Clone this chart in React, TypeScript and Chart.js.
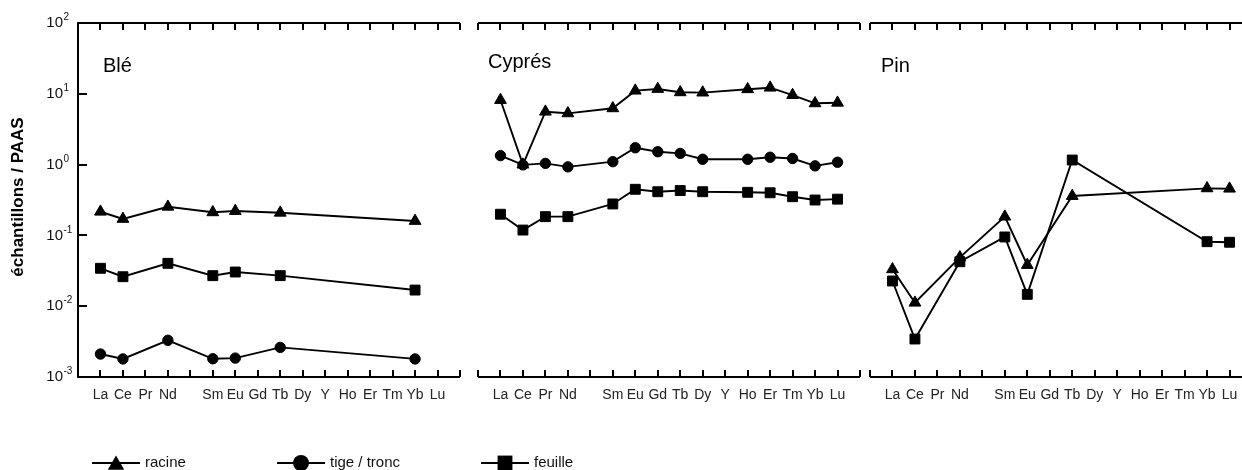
import React, { useEffect, useRef } from 'react';
import { Chart, registerables } from 'chart.js';

Chart.register(...registerables);

// ---------- data ----------
const ELEMENTS = ['La', 'Ce', 'Pr', 'Nd', 'Pm', 'Sm', 'Eu', 'Gd', 'Tb', 'Dy', 'Y', 'Ho', 'Er', 'Tm', 'Yb', 'Lu'];
const TICK_LABELS = ['La', 'Ce', 'Pr', 'Nd', '', 'Sm', 'Eu', 'Gd', 'Tb', 'Dy', 'Y', 'Ho', 'Er', 'Tm', 'Yb', 'Lu'];
const PANEL_TITLES = ['Blé', 'Cyprés', 'Pin'];
const SERIES_NAMES = ['racine', 'tige / tronc', 'feuille'];
const Y_DECADES = [-3, -2, -1, 0, 1, 2];
const Y_TITLE = 'échantillons / PAAS';

// Blé
const BLE_RACINE = [0.216, 0.171, null, 0.254, null, 0.212, 0.221, null, 0.209, null, null, null, null, null, 0.16, null];
const BLE_TIGE = [0.00211, 0.0018, null, 0.0033, null, 0.00181, 0.00185, null, 0.00262, null, null, null, null, null, 0.0018, null];
const BLE_FEUILLE = [0.0343, 0.0261, null, 0.0403, null, 0.027, 0.0304, null, 0.027, null, null, null, null, null, 0.0169, null];

// Cyprés
const CYP_RACINE = [8.17, 1.0, 5.59, 5.3, null, 6.24, 11.07, 11.7, 10.5, 10.4, null, 11.6, 12.2, 9.6, 7.34, 7.48];
const CYP_TIGE = [1.34, 0.99, 1.04, 0.93, null, 1.1, 1.73, 1.52, 1.44, 1.19, null, 1.19, 1.27, 1.22, 0.96, 1.08];
const CYP_FEUILLE = [0.199, 0.119, 0.184, 0.184, null, 0.278, 0.448, 0.414, 0.43, 0.414, null, 0.406, 0.4, 0.352, 0.316, 0.325];

// Pin
const PIN_RACINE = [0.0332, 0.0112, null, 0.049, null, 0.184, 0.0382, null, 0.36, null, null, null, null, null, 0.462, 0.457];
const PIN_FEUILLE = [0.0227, 0.00344, null, 0.0425, null, 0.095, 0.0147, null, 1.16, null, null, null, null, null, 0.0815, 0.08];

// ---------- styling / layout ----------
const FONT = "'Liberation Sans', Arial, Helvetica, sans-serif";
const W = 1242;
const H = 470;
const PLOT_TOP = 23;
const PLOT_BOTTOM = 377;
const PLOT_W = 382;
const X_AXIS_H = 30;

const MARKERS = [
  { style: 'triangle', radius: 6.8, legendR: 9.5 },
  { style: 'circle', radius: 5.2, legendR: 8 },
  { style: 'rect', radius: 7, legendR: 10.5 },
];

const LEGEND_X = [92, 277, 481];
const LEGEND_Y = 463;

type PanelCfg = {
  title: string;
  left: number;
  canvasW: number;
  series: (number | null)[][];
  leftAxis: boolean;
  titleDx: number;
  titleY: number;
  legend: boolean;
};

const PANELS: PanelCfg[] = [
  { title: PANEL_TITLES[0], left: 78, canvasW: W, series: [BLE_RACINE, BLE_TIGE, BLE_FEUILLE], leftAxis: true, titleDx: 25, titleY: 66, legend: true },
  { title: PANEL_TITLES[1], left: 478, canvasW: W, series: [CYP_RACINE, CYP_TIGE, CYP_FEUILLE], leftAxis: false, titleDx: 10, titleY: 62, legend: false },
  { title: PANEL_TITLES[2], left: 870, canvasW: 1275, series: [PIN_RACINE, [], PIN_FEUILLE], leftAxis: false, titleDx: 11, titleY: 66, legend: false },
];

function toPoints(arr: (number | null)[]) {
  const pts: { x: number; y: number }[] = [];
  arr.forEach((v, i) => {
    if (v !== null && v !== undefined) pts.push({ x: i + 1, y: v });
  });
  return pts;
}

function drawMarker(ctx: CanvasRenderingContext2D, style: string, x: number, y: number, r: number) {
  ctx.beginPath();
  if (style === 'triangle') {
    ctx.moveTo(x, y - r);
    ctx.lineTo(x + r * Math.sin(Math.PI * 2 / 3), y + r * 0.5);
    ctx.lineTo(x - r * Math.sin(Math.PI * 2 / 3), y + r * 0.5);
    ctx.closePath();
  } else if (style === 'circle') {
    ctx.arc(x, y, r, 0, Math.PI * 2);
  } else {
    const s = r * Math.SQRT1_2;
    ctx.rect(x - s, y - s, 2 * s, 2 * s);
  }
  ctx.fill();
}

const framePlugin = {
  id: 'frame',
  afterDraw(chart: any, _args: any, opts: any) {
    const { ctx, chartArea, scales } = chart;
    const xs = scales.x;
    const ys = scales.y;
    const top = chartArea.top;
    const bot = chartArea.bottom;
    const x0 = xs.getPixelForValue(0);
    const x1 = xs.getPixelForValue(ELEMENTS.length + 1);
    ctx.save();
    ctx.strokeStyle = '#000';
    ctx.lineWidth = 2;
    ctx.lineCap = 'butt';
    ctx.beginPath();
    ctx.moveTo(x0, top);
    ctx.lineTo(x1, top);
    ctx.moveTo(x0, bot);
    ctx.lineTo(x1, bot);
    for (let i = 0; i <= ELEMENTS.length + 1; i++) {
      const px = Math.round(xs.getPixelForValue(i));
      ctx.moveTo(px, top);
      ctx.lineTo(px, top + 7);
      ctx.moveTo(px, bot);
      ctx.lineTo(px, bot - 7);
    }
    ctx.stroke();

    if (opts.leftAxis) {
      ctx.beginPath();
      ctx.moveTo(x0, top - 1);
      ctx.lineTo(x0, bot + 1);
      Y_DECADES.forEach((d) => {
        const py = Math.round(ys.getPixelForValue(Math.pow(10, d)));
        ctx.moveTo(x0, py);
        ctx.lineTo(x0 + 9, py);
      });
      ctx.stroke();
      // tick labels 10^n
      ctx.fillStyle = '#111';
      Y_DECADES.forEach((d) => {
        const py = ys.getPixelForValue(Math.pow(10, d));
        ctx.font = `15px ${FONT}`;
        ctx.textAlign = 'right';
        ctx.textBaseline = 'middle';
        ctx.fillText('10', 63, py);
        ctx.font = `10px ${FONT}`;
        ctx.textAlign = 'left';
        ctx.fillText(d < 0 ? '-' + Math.abs(d) : String(d), 63.5, py - 5.5);
      });
      // y title
      ctx.save();
      ctx.translate(18, 197);
      ctx.rotate(-Math.PI / 2);
      ctx.font = `bold 17px ${FONT}`;
      ctx.textAlign = 'center';
      ctx.textBaseline = 'middle';
      ctx.fillStyle = '#000';
      ctx.fillText(Y_TITLE, 0, 0);
      ctx.restore();
    }

    // panel title
    ctx.fillStyle = '#000';
    ctx.font = `20px ${FONT}`;
    ctx.textAlign = 'left';
    ctx.textBaseline = 'middle';
    ctx.fillText(opts.title, x0 + opts.titleDx, opts.titleY);

    if (opts.legend) {
      SERIES_NAMES.forEach((name, i) => {
        const lx = LEGEND_X[i];
        ctx.strokeStyle = '#000';
        ctx.lineWidth = 2;
        ctx.beginPath();
        ctx.moveTo(lx, LEGEND_Y);
        ctx.lineTo(lx + 48, LEGEND_Y);
        ctx.stroke();
        ctx.fillStyle = '#000';
        const m = MARKERS[i];
        drawMarker(ctx, m.style, lx + 24, LEGEND_Y + (m.style === 'triangle' ? 2 : 0), m.legendR);
        ctx.font = `15px ${FONT}`;
        ctx.textAlign = 'left';
        ctx.textBaseline = 'middle';
        ctx.fillStyle = '#111';
        ctx.fillText(name, lx + 53, LEGEND_Y);
      });
    }
    ctx.restore();
  },
};

function makeConfig(p: PanelCfg): any {
  const datasets = p.series
    .map((arr, i) => ({
      label: SERIES_NAMES[i],
      data: toPoints(arr),
      borderColor: '#000',
      backgroundColor: '#000',
      borderWidth: 1.9,
      pointStyle: MARKERS[i].style,
      pointRadius: MARKERS[i].radius,
      pointBorderWidth: 1,
      pointBackgroundColor: '#000',
      pointBorderColor: '#000',
      tension: 0,
      fill: false,
      spanGaps: true,
    }))
    .filter((d) => d.data.length > 0);
  return {
    type: 'line',
    data: { datasets },
    plugins: [framePlugin],
    options: {
      responsive: false,
      animation: false,
      devicePixelRatio: 1,
      events: [],
      layout: {
        padding: {
          left: p.left,
          right: p.canvasW - p.left - PLOT_W,
          top: PLOT_TOP,
          bottom: H - PLOT_BOTTOM - X_AXIS_H,
        },
      },
      scales: {
        x: {
          type: 'linear',
          position: 'bottom',
          min: 0,
          max: ELEMENTS.length + 1,
          grid: { display: false, drawTicks: false },
          border: { display: false },
          afterFit: (s: any) => {
            s.height = X_AXIS_H;
          },
          ticks: {
            stepSize: 1,
            autoSkip: false,
            maxRotation: 0,
            padding: 10,
            color: '#222',
            font: { family: FONT, size: 14 },
            callback: (v: number) => (v >= 1 && v <= ELEMENTS.length ? TICK_LABELS[v - 1] : ''),
          },
        },
        y: {
          type: 'logarithmic',
          min: 0.001,
          max: 100,
          display: false,
        },
      },
      plugins: {
        legend: { display: false },
        tooltip: { enabled: false },
        frame: {
          leftAxis: p.leftAxis,
          title: p.title,
          titleDx: p.titleDx,
          titleY: p.titleY,
          legend: p.legend,
        },
      },
    },
  };
}

export default function App() {
  const ref0 = useRef<HTMLCanvasElement>(null);
  const ref1 = useRef<HTMLCanvasElement>(null);
  const ref2 = useRef<HTMLCanvasElement>(null);

  useEffect(() => {
    const refs = [ref0, ref1, ref2];
    const charts = PANELS.map((p, i) => new Chart(refs[i].current as HTMLCanvasElement, makeConfig(p)));
    return () => charts.forEach((c) => c.destroy());
  }, []);

  const refs = [ref0, ref1, ref2];
  return (
    <div
      style={{
        position: 'fixed',
        left: 0,
        top: 0,
        width: W,
        height: H,
        overflow: 'hidden',
        background: '#fff',
      }}
    >
      {PANELS.map((p, i) => (
        <canvas
          key={i}
          ref={refs[i]}
          width={p.canvasW}
          height={H}
          style={{ position: 'absolute', left: 0, top: 0, width: p.canvasW, height: H }}
        />
      ))}
    </div>
  );
}
